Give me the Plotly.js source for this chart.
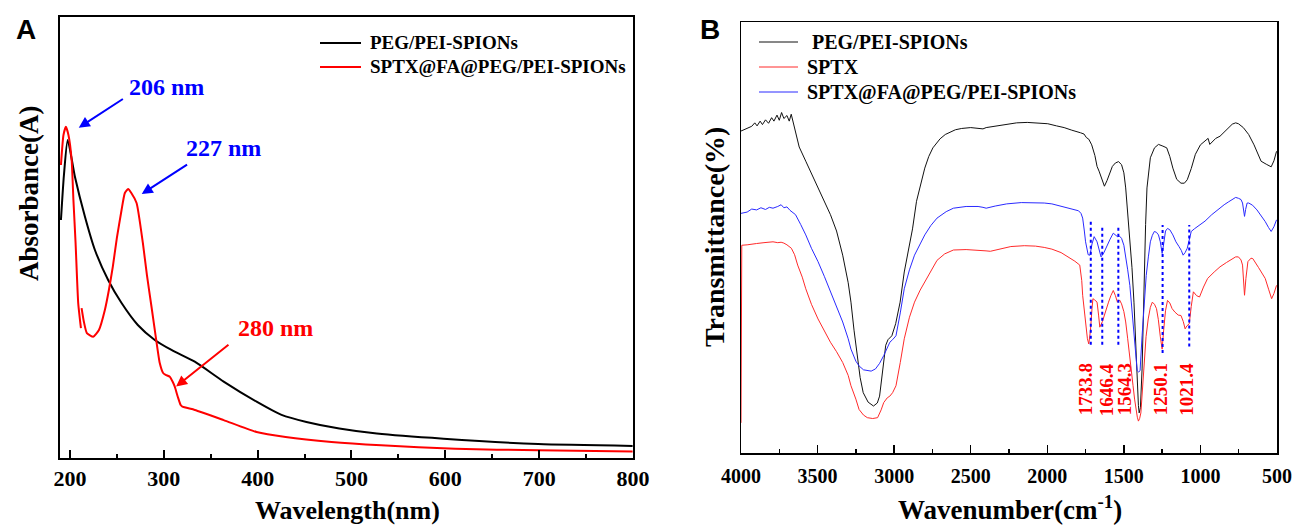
<!DOCTYPE html>
<html>
<head>
<meta charset="utf-8">
<script src="https://cdn.plot.ly/plotly-3.0.1.min.js"></script>
<style>
  html, body { margin: 0; padding: 0; background: #fff; }
  #chart { width: 1293px; height: 527px; }
</style>
</head>
<body>
<div id="chart"></div>
<script>
// ---------- Panel A: UV-Vis ----------
const uvSeriesNames = ['PEG/PEI-SPIONs', 'SPTX@FA@PEG/PEI-SPIONs'];
const uvWavelengthBlack = [190.4,193.6,197.6,205.3,216,226.6,240.7,255,272.3,290.4,308.2,333,363.8,398.9,425.5,452,487,527,598,699,799.6];
const uvAbsBlack = [1.619,1.925,2.163,1.913,1.641,1.415,1.211,1.054,0.905,0.803,0.735,0.655,0.520,0.383,0.293,0.245,0.200,0.166,0.131,0.095,0.082];
const uvWavelengthRed = [190.4,193.1,195.7,198.4,201.8,203.7,206,208.8,211.7,212.1,212.4,214.9,218,224.8,230.9,237.2,241.5,245.7,250,255,258.5,262,265.4,271,277.7,282,286.9,291.5,295.7,299.3,302,306.4,309.6,311.7,314.9,318,319.8,333,363.8,398.9,429.8,478.7,531.6,610.6,699,799.6];
const uvAbsRed = [1.993,2.197,2.253,2.197,2.027,1.755,1.463,1.054,0.884,null,1.020,0.925,0.85,0.825,0.871,1.007,1.143,1.302,1.497,1.687,1.803,1.830,1.803,1.735,1.463,1.245,1.029,0.823,0.646,0.578,0.565,0.553,0.517,0.485,0.417,0.360,0.349,0.327,0.258,0.177,0.143,0.109,0.086,0.063,0.052,0.045];
const uvTickVals = [200,300,400,500,600,700,800];
const uvPeakLabels = ['206 nm', '227 nm', '280 nm'];

// ---------- Panel B: FTIR ----------
const irSeriesNames = ['PEG/PEI-SPIONs', 'SPTX', 'SPTX@FA@PEG/PEI-SPIONs'];
const irWaveBlack = [4000,3960,3930,3910,3895,3875,3860,3840,3820,3800,3785,3765,3750,3735,3720,3700,3685,3672,3660,3645,3620,3577,3540,3497,3456,3416,3376,3336,3300,3282,3262,3242,3222,3202,3170,3135,3110,3095,3075,3055,3040,3015,2990,2961,2934,2907,2880,2854,2827,2800,2774,2747,2700,2666,2600,2559,2500,2452,2420,2399,2350,2292,2200,2131,2060,1997,1940,1890,1840,1800,1783,1760,1745,1729,1710,1689,1675,1662,1645,1627,1610,1595,1575,1555,1535,1515,1500,1488,1475,1461,1447,1434,1422,1413,1405,1400,1392,1381,1374,1368,1358,1349,1338,1327,1300,1274,1245,1220,1200,1180,1155,1127,1105,1086,1060,1033,1000,966,950,939,920,900,872,830,792,770,752,720,685,650,620,604,570,538,520,503];
const irTransBlack = [74.7,75.3,75.8,76.6,75.9,77.0,76.2,77.3,76.5,77.8,77.0,78.4,77.2,79.0,77.6,78.3,77.0,78.6,76.8,74.5,71.0,67.7,64.8,61.5,58.5,55.3,51.5,45.9,39.5,35.0,28.5,22.6,17.5,14.0,11.8,10.9,11.6,13.2,19.0,25.0,26.3,27.2,30.0,35.0,42.0,46.7,52.0,58.4,62.5,66.1,68.8,70.8,72.9,73.9,75.0,75.3,75.5,75.4,75.2,75.5,75.8,76.1,76.6,76.7,76.6,76.4,75.9,75.5,74.9,74.6,74.3,74.0,73.2,72.8,71.5,69.0,66.5,65.4,63.5,61.9,63.2,64.6,66.5,67.3,67.6,66.9,65.0,61.5,56.0,50.6,43.0,35.0,25.0,15.6,11.0,9.3,10.5,19.5,30.0,42.8,53.0,61.5,66.0,68.5,70.8,71.6,71.2,70.8,68.8,66.1,63.5,62.6,62.6,63.4,66.0,69.3,71.5,72.4,73.0,71.6,72.2,73.0,73.5,75.0,76.3,76.6,76.4,75.5,73.9,71.5,69.0,67.7,67.0,66.4,67.8,70.0];
const irWaveBlue = [4000,3960,3930,3898,3870,3840,3815,3791,3760,3738,3720,3700,3680,3671,3644,3610,3577,3540,3497,3456,3416,3376,3336,3300,3282,3250,3229,3200,3175,3150,3122,3095,3068,3045,3028,3010,2988,2960,2934,2900,2867,2830,2800,2760,2720,2660,2613,2530,2452,2420,2399,2340,2265,2170,2077,2020,1970,1910,1863,1820,1796,1780,1769,1758,1750,1733,1721,1708,1694,1675,1660,1649,1630,1609,1590,1569,1555,1542,1528,1515,1500,1488,1475,1461,1447,1434,1420,1413,1403,1394,1381,1368,1354,1340,1327,1314,1301,1287,1274,1262,1250,1240,1228,1215,1200,1180,1160,1140,1125,1113,1100,1086,1072,1060,1040,1006,970,926,885,845,815,792,770,752,735,725,718,712,705,695,685,660,631,600,577,555,538,520,503];
const irTransBlue = [55.6,55.9,56.6,56.4,56.9,56.5,57.0,56.8,57.2,57.6,56.9,57.1,56.3,56.0,55.3,53.0,50.6,47.5,44.4,41.0,37.4,34.0,30.4,26.5,24.1,21.3,20.2,19.3,19.1,19.0,19.5,20.8,22.6,24.5,25.7,26.3,27.2,32.5,38.1,42.5,45.9,48.5,50.6,52.8,54.5,56.0,56.8,57.2,57.2,57.0,56.8,57.3,57.8,58.1,58.1,58.0,57.8,57.3,56.8,56.5,56.2,55.6,54.5,51.5,49.0,46.0,45.9,48.5,50.2,49.0,46.8,45.5,46.5,48.2,49.6,51.0,50.6,50.2,50.3,49.8,48.2,45.9,42.5,38.9,33.0,27.2,21.5,19.1,18.8,19.1,27.2,35.0,41.2,45.5,49.0,50.5,51.4,51.2,50.6,49.0,46.3,48.5,51.5,52.1,51.8,50.6,49.0,47.9,47.0,45.9,46.5,47.5,49.5,51.4,52.0,52.9,53.8,55.3,56.5,57.6,58.3,58.8,59.3,59.1,58.8,58.0,56.5,54.9,56.5,58.0,58.0,57.5,56.4,55.0,53.7,52.3,51.4,52.5,54.1];
const irWaveRed = [4000,3995,3960,3930,3898,3850,3791,3760,3738,3720,3700,3671,3650,3630,3600,3577,3540,3497,3456,3416,3376,3336,3300,3282,3250,3229,3200,3175,3140,3108,3085,3068,3045,3028,3010,2988,2960,2934,2900,2867,2830,2800,2760,2720,2670,2613,2530,2452,2400,2372,2300,2238,2150,2077,2020,1970,1910,1863,1820,1788,1775,1769,1758,1750,1738,1729,1718,1708,1702,1690,1675,1665,1657,1640,1622,1600,1585,1569,1555,1542,1528,1515,1500,1488,1475,1461,1450,1440,1430,1421,1412,1405,1397,1389,1378,1368,1355,1341,1327,1314,1300,1287,1275,1262,1250,1240,1228,1215,1200,1185,1167,1145,1127,1112,1100,1088,1073,1060,1046,1025,1006,980,953,910,872,830,792,770,752,735,725,718,712,703,690,670,658,620,577,555,535,520,503];
const irTransRed = [7.0,48.2,48.3,48.5,48.6,48.8,49.0,48.8,48.9,48.7,48.3,47.5,46.0,43.6,40.8,38.1,34.5,31.1,28.3,25.7,23.5,21.0,18.0,15.6,12.5,10.1,8.8,8.2,8.0,8.2,10.0,11.7,12.8,13.2,14.0,15.6,21.0,26.5,31.5,35.0,37.8,39.7,42.5,44.7,46.2,47.1,47.2,47.1,46.9,46.8,47.3,47.9,48.1,48.0,47.7,47.3,46.5,45.5,44.5,43.6,40.0,36.6,33.0,30.4,26.5,25.3,28.5,33.5,35.8,35.5,35.0,32.0,29.2,30.5,32.7,35.0,36.5,37.7,36.5,35.0,35.5,34.6,32.8,30.4,26.5,22.6,19.0,15.6,12.5,10.1,8.3,7.4,8.0,9.3,15.0,21.0,27.0,31.1,33.8,35.0,34.5,33.5,31.0,27.0,24.1,28.5,33.0,35.4,34.8,33.5,32.7,32.0,31.9,30.5,28.8,29.5,30.0,34.0,37.4,36.5,36.2,38.5,40.5,42.0,43.2,44.2,45.1,45.5,45.5,44.8,43.6,40.0,36.6,40.5,44.4,45.2,45.1,43.0,40.5,38.0,35.8,37.0,38.9];
const irTickVals = [4000,3500,3000,2500,2000,1500,1000,500];
const irMarkerLines = [1716, 1641, 1536, 1247, 1073];
const irMarkerTop = [53.7, 52.9, 52.9, 52.9, 52.9];
const irMarkerBottom = [25.1, 25.1, 25.1, 23.2, 24.7];
const irMarkerLabels = ['1733.8', '1646.4', '1564.3', '1250.1', '1021.4'];
const irMarkerLabelX = [1754, 1617, 1499, 1264, 1090];

// ---------- styling ----------
const SERIF = 'Liberation Serif, Times New Roman, serif';
const SANS = 'Liberation Sans, Arial, sans-serif';
const BLACK = '#000000', RED = '#ff0000', BLUE = '#0000ff';
const W = 1293, H = 527;
const px = v => v / W;
const py = v => (H - v) / H;

const traces = [
  {x: uvWavelengthBlack, y: uvAbsBlack, name: uvSeriesNames[0], xaxis: 'x', yaxis: 'y', mode: 'lines',
   line: {color: BLACK, width: 2, shape: 'spline', smoothing: 0.6}},
  {x: uvWavelengthRed, y: uvAbsRed, name: uvSeriesNames[1], xaxis: 'x', yaxis: 'y', mode: 'lines',
   line: {color: RED, width: 2, shape: 'spline', smoothing: 0.5}},
  {x: irWaveBlack, y: irTransBlack, name: irSeriesNames[0], xaxis: 'x2', yaxis: 'y2', mode: 'lines',
   line: {color: '#111111', width: 1}},
  {x: irWaveRed, y: irTransRed, name: irSeriesNames[1], xaxis: 'x2', yaxis: 'y2', mode: 'lines',
   line: {color: '#ff2a2a', width: 1}},
  {x: irWaveBlue, y: irTransBlue, name: irSeriesNames[2], xaxis: 'x2', yaxis: 'y2', mode: 'lines',
   line: {color: '#2a2aff', width: 1}}
];

const shapes = [];
const annotations = [];

function label(xref, yref, x, y, text, size, color, family, angle) {
  annotations.push({xref: xref, yref: yref, x: x, y: y, xanchor: 'center', yanchor: 'middle',
                    text: text, textangle: angle || 0, showarrow: false,
                    font: {family: family || SERIF, size: size, color: color}});
}

// dashed marker lines (panel B)
irMarkerLines.forEach((w, i) => {
  shapes.push({type: 'line', xref: 'x2', yref: 'y2', x0: w, x1: w, y0: irMarkerBottom[i], y1: irMarkerTop[i],
               line: {color: BLUE, width: 2, dash: 'dot'}});
  label('x2', 'y2', irMarkerLabelX[i], 14.8, '<b>' + irMarkerLabels[i] + '</b>', 19, RED, SERIF, -90);
});

// legends (manual, to match sample line lengths)
const legA = [[uvSeriesNames[0], BLACK, 43], [uvSeriesNames[1], RED, 67]];
legA.forEach(([t, c, yy]) => {
  shapes.push({type: 'line', xref: 'paper', yref: 'paper', x0: px(320), x1: px(361), y0: py(yy), y1: py(yy),
               line: {color: c, width: 2}});
  annotations.push({xref: 'paper', yref: 'paper', x: px(368), y: py(yy), xanchor: 'left', yanchor: 'middle',
                    text: '<b>' + t + '</b>', showarrow: false, font: {family: SERIF, size: 19, color: BLACK}});
});
const legB = [[irSeriesNames[0], '#111111', 42, 810], [irSeriesNames[1], '#ff2a2a', 67, 805], [irSeriesNames[2], '#2a2aff', 92, 805]];
legB.forEach(([t, c, yy, tx]) => {
  shapes.push({type: 'line', xref: 'paper', yref: 'paper', x0: px(759), x1: px(798), y0: py(yy), y1: py(yy),
               line: {color: c, width: 1}});
  annotations.push({xref: 'paper', yref: 'paper', x: px(tx), y: py(yy), xanchor: 'left', yanchor: 'middle',
                    text: '<b>' + t + '</b>', showarrow: false, font: {family: SERIF, size: 20, color: BLACK}});
});

// peak labels and arrows (panel A)
const peakText = [[303.2, 2.521, BLUE], [363.8, 2.109, BLUE], [419.1, 0.886, RED]];
peakText.forEach(([x, y, c], i) => label('x', 'y', x, y, '<b>' + uvPeakLabels[i] + '</b>', 24, c));
const arrows = [[209.4, 2.247, 258, 2.449, BLUE], [276.5, 1.796, 326.4, 2.002, BLUE], [313.1, 0.486, 370.5, 0.779, RED]];
arrows.forEach(([x, y, ax, ay, c]) => {
  annotations.push({xref: 'x', yref: 'y', axref: 'x', ayref: 'y', x: x, y: y, ax: ax, ay: ay, text: '',
                    showarrow: true, arrowhead: 2, arrowsize: 1.1, arrowwidth: 2, arrowcolor: c, standoff: 0, startstandoff: 0});
});

// axis titles
label('paper', 'paper', px(347), py(510), '<b>Wavelength(nm)</b>', 26, BLACK);
label('paper', 'paper', px(29), py(193), '<b>Absorbance(A)</b>', 27, BLACK, SERIF, -90);
label('paper', 'paper', px(1010), py(508), '<b>Wavenumber(cm<sup>-1</sup>)</b>', 27, BLACK);
label('paper', 'paper', px(714), py(237), '<b>Transmittance(%)</b>', 28, BLACK, SERIF, -90);
// panel letters
label('paper', 'paper', px(26), py(30), '<b>A</b>', 28, BLACK, SANS);
label('paper', 'paper', px(710), py(30), '<b>B</b>', 28, BLACK, SANS);

const baseY = {showticklabels: false, ticks: '', showgrid: false, zeroline: false, showline: true, mirror: true, linecolor: BLACK, fixedrange: true};

const layout = {
  width: W, height: H,
  margin: {l: 0, r: 0, t: 0, b: 0},
  paper_bgcolor: '#ffffff', plot_bgcolor: '#ffffff',
  showlegend: false,
  xaxis: {domain: [px(60), px(633)], range: [189.4, 800], tickvals: uvTickVals, ticks: 'inside', ticklen: 8, tickwidth: 2,
          tickcolor: BLACK, showline: true, mirror: true, linewidth: 2, linecolor: BLACK, showgrid: false, zeroline: false,
          tickfont: {family: SERIF, size: 22, color: BLACK, weight: 'bold'}, ticklabelstandoff: 0,
          minor: {ticks: 'inside', ticklen: 4, tickwidth: 2, tickcolor: BLACK, dtick: 50, tick0: 200, showgrid: false},
          anchor: 'y'},
  yaxis: Object.assign({}, baseY, {domain: [py(458), py(17)], range: [0, 3], linewidth: 2, anchor: 'x'}),
  xaxis2: {domain: [px(741), px(1277)], range: [4000, 500], tickvals: irTickVals, ticks: 'inside', ticklen: 8, tickwidth: 1.5,
           tickcolor: BLACK, showline: true, mirror: true, linewidth: 1.5, linecolor: BLACK, showgrid: false, zeroline: false,
           tickfont: {family: SERIF, size: 20, color: BLACK, weight: 'bold'}, ticklabelstandoff: 4,
           minor: {ticks: 'inside', ticklen: 4, tickwidth: 1.5, tickcolor: BLACK, dtick: 250, tick0: 500, showgrid: false},
           anchor: 'y2'},
  yaxis2: Object.assign({}, baseY, {domain: [py(453), py(22)], range: [0, 100], linewidth: 1.5, anchor: 'x2'}),
  shapes: shapes,
  annotations: annotations
};

Plotly.newPlot('chart', traces, layout, {displayModeBar: false, staticPlot: true});
</script>
</body>
</html>
